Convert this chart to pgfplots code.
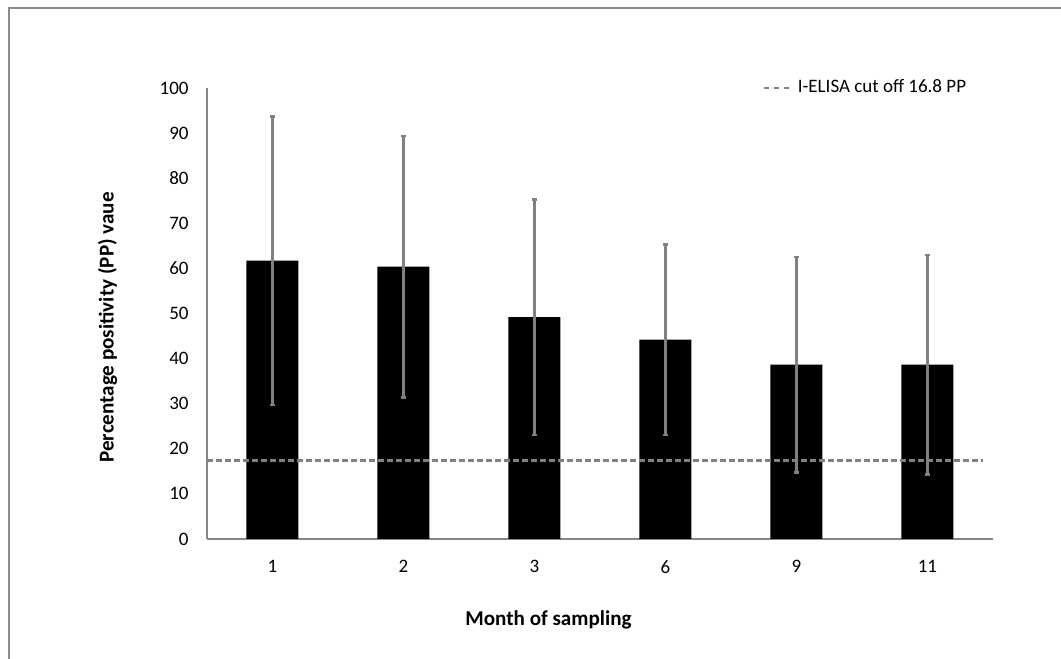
\documentclass[border=0pt]{standalone}
\usepackage{pgfplots}
\pgfplotsset{compat=1.18}
\usepackage{fontspec}
\setmainfont{Carlito}
\newlength\px
\setlength\px{0.47368pt}
\definecolor{axgray}{RGB}{134,134,134}
\definecolor{errgray}{RGB}{128,128,128}
\definecolor{framegray}{RGB}{140,140,140}
\begin{document}
\begin{tikzpicture}
\useasboundingbox (0,0) rectangle (1061\px,659\px);
\draw[framegray, line width=1.5\px] (9\px,0) -- (9\px,651\px) -- (1061\px,651\px);
\begin{axis}[
  at={(207\px,120\px)}, anchor=south west,
  scale only axis, width=786\px, height=451\px,
  xmin=-0.5, xmax=5.5, ymin=0, ymax=100,
  axis x line=bottom, axis y line=left,
  axis line style={-, axgray, line width=1.4\px},
  major tick length=0pt,
  xtick={0,1,2,3,4,5}, xticklabels={1,2,3,6,9,11},
  ytick={0,10,...,100},
  /pgf/number format/assume math mode=true,
  tick label style={font=\fontsize{9}{11}\selectfont, text=black},
  yticklabel style={anchor=east, inner sep=0pt, xshift=-18\px},
  xticklabel style={anchor=north, inner sep=0pt, yshift=-21\px},
  xlabel={Month of sampling},
  ylabel={Percentage positivity (PP) vaue},
  every axis x label/.style={at={(axis description cs:0.4345,-0.1796)}, anchor=center,
    font=\fontsize{10}{12}\selectfont\bfseries},
  every axis y label/.style={at={(axis description cs:-0.1266,0.469)}, anchor=center, rotate=90,
    font=\fontsize{10}{12}\selectfont\bfseries},
  legend style={at={(axis description cs:0.9695,1)}, anchor=east, draw=none, fill=none,
    inner sep=0pt, font=\fontsize{9}{11}\selectfont, nodes={inner sep=2.5\px}},
  legend image code/.code={\draw[#1, dash pattern=on 5\px off 5\px] (0,0) -- (30\px,0);},
  clip=false,
]
\addplot[ybar, bar width=52\px, fill=black, draw=none, forget plot,
  error bars/.cd, y dir=both, y explicit,
  error bar style={errgray, line width=2.5\px},
  error mark options={errgray, rotate=90, mark size=2.5\px, line width=2.5\px}]
  table[x=x, y=y, y error=e] {
x y e
0 61.7 32.0
1 60.4 29.0
2 49.2 26.1
3 44.2 21.15
4 38.65 23.9
5 38.65 24.35
};
\addplot[errgray, line width=2.4\px, dash pattern=on 6\px off 3\px] coordinates {(-0.5,17.4) (5.42,17.4)};
\addlegendentry{I-ELISA cut off 16.8 PP}
\end{axis}
\end{tikzpicture}
\end{document}
